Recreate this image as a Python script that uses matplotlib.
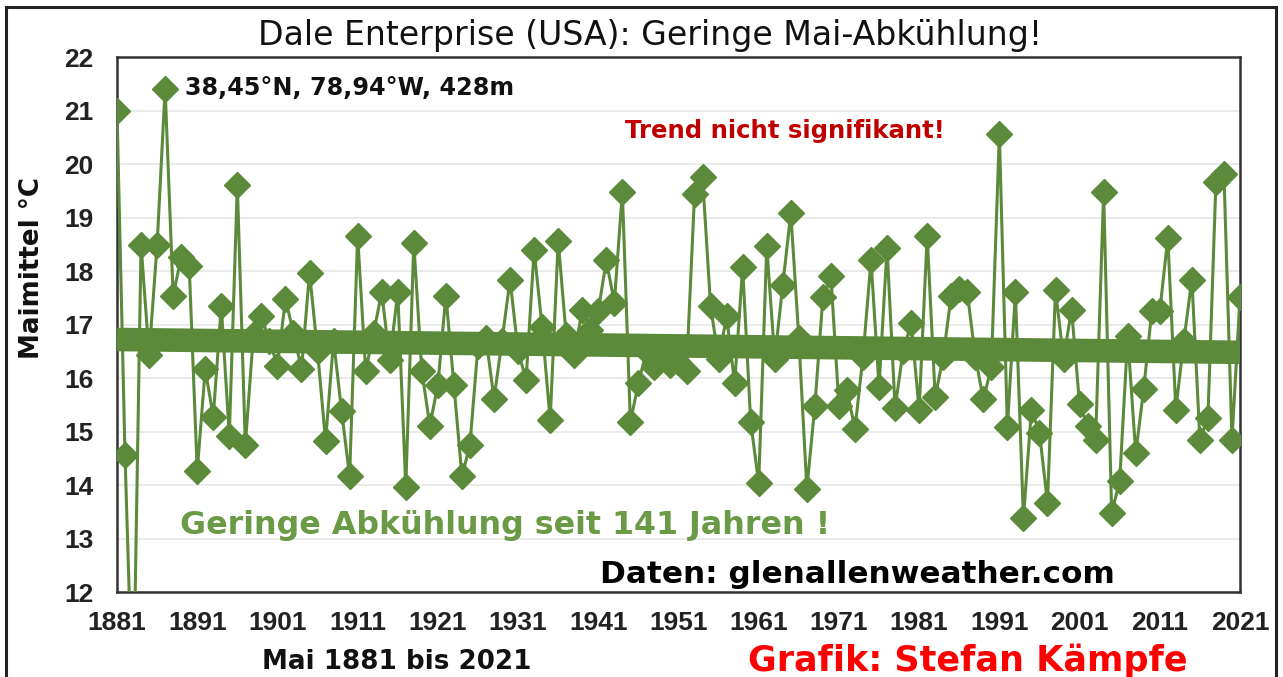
import matplotlib
matplotlib.use("Agg")
import matplotlib.pyplot as plt
from matplotlib.patches import Rectangle
import numpy as np

years = list(range(1881, 2022))
temps = [
    21.0, 14.56, 9.6, 18.49, 16.43, 18.49, 21.41, 17.54, 18.26, 18.1,     # 1881-1890
    14.26, 16.16, 15.28, 17.34, 14.92, 19.6, 14.75, 16.8, 17.15, 16.7,    # 1891-1900
    16.23, 17.47, 16.85, 16.16, 17.97, 16.5, 14.82, 16.7, 15.38, 14.16,   # 1901-1910
    18.66, 16.13, 16.85, 17.6, 16.33, 17.6, 13.97, 18.52, 16.13, 15.11,   # 1911-1920
    15.87, 17.54, 15.87, 14.16, 14.75, 16.6, 16.75, 15.61, 16.7, 17.84,   # 1921-1930
    16.5, 15.97, 18.39, 16.95, 15.21, 18.56, 16.8, 16.43, 17.28, 16.9,    # 1931-1940
    17.25, 18.2, 17.41, 19.48, 15.18, 15.9, 16.5, 16.2, 16.4, 16.25,      # 1941-1950
    16.3, 16.13, 19.43, 19.75, 17.34, 16.36, 17.15, 15.9, 18.07, 15.18,   # 1951-1960
    14.03, 18.46, 16.36, 17.74, 19.08, 16.75, 13.93, 15.48, 17.51, 17.9,  # 1961-1970
    15.48, 15.77, 15.05, 16.4, 18.2, 15.84, 18.43, 15.44, 16.5, 17.02,    # 1971-1980
    15.41, 18.66, 15.64, 16.4, 17.54, 17.67, 17.6, 16.4, 15.6, 16.2,      # 1981-1990
    20.56, 15.08, 17.6, 13.38, 15.41, 14.98, 13.67, 17.64, 16.36, 17.28,  # 1991-2000
    15.51, 15.11, 14.85, 19.48, 13.48, 14.07, 16.78, 14.59, 15.8, 17.25,  # 2001-2010
    17.25, 18.62, 15.41, 16.7, 17.84, 14.85, 15.25, 19.67, 19.82, 14.85,  # 2011-2020
    17.51,                                                                # 2021
]
trend_years = [1881, 2021]
trend_values = [16.72, 16.48]
xtick_years = list(range(1881, 2022, 10))
yticks = list(range(12, 23))

GREEN = "#5b8a3a"
W, H = 1283, 677
plt.rcParams['font.family'] = ['Liberation Sans', 'DejaVu Sans']
fig = plt.figure(figsize=(W / 100, H / 100), dpi=100)

def fx(px):
    return px / W

def fy(py):
    return 1 - py / H

WIDE = ['DejaVu Sans']

ax = fig.add_axes([fx(117), fy(592), fx(1240) - fx(117), fy(57) - fy(592)])
ax.set_xlim(1881, 2021)
ax.set_ylim(12, 22)
ax.set_yticks(yticks)
ax.set_xticks(xtick_years)
ax.grid(axis='y', color='#e6e6e6', lw=1.2)
ax.set_axisbelow(True)
for s in ax.spines.values():
    s.set_color('#333333')
    s.set_linewidth(1.8)
ax.tick_params(axis='x', length=0, labelsize=19, pad=14)
ax.tick_params(axis='y', length=0, labelsize=19, pad=17)
for lab in ax.get_xticklabels() + ax.get_yticklabels():
    lab.set_fontweight('bold')
    lab.set_color('#222222')

ax.plot(years, temps, color=GREEN, lw=2.2, marker='D', markersize=13,
        markerfacecolor=GREEN, markeredgecolor=GREEN, zorder=3, clip_on=True)
ax.plot(trend_years, trend_values, color=GREEN, lw=17, solid_capstyle='butt', zorder=4)

fig.text(fx(32), fy(268), 'Maimittel °C', rotation=90, ha='center', va='center',
         fontsize=18.8, fontweight='bold', family=WIDE, color='#111111')

fig.text(fx(650), fy(45), 'Dale Enterprise (USA): Geringe Mai-Abkühlung!',
         ha='center', va='baseline', fontsize=23.9, family=WIDE, color='#111111')
fig.text(fx(185), fy(95), '38,45°N, 78,94°W, 428m', ha='left', va='baseline',
         fontsize=17.2, fontweight='bold', family=WIDE, color='#111111')
fig.text(fx(625), fy(138), 'Trend nicht signifikant!', ha='left', va='baseline',
         fontsize=17.6, fontweight='bold', family=WIDE, color='#c00000')
fig.text(fx(180), fy(534), 'Geringe Abkühlung seit 141 Jahren !', ha='left', va='baseline',
         fontsize=22.9, fontweight='bold', family=WIDE, color='#6a9a45')
fig.text(fx(600), fy(583), 'Daten: glenallenweather.com', ha='left', va='baseline',
         fontsize=22.4, fontweight='bold', family=WIDE, color='#000000')
fig.text(fx(262), fy(669), 'Mai 1881 bis 2021', ha='left', va='baseline',
         fontsize=18.8, fontweight='bold', family=WIDE, color='#111111')
fig.text(fx(748), fy(671), 'Grafik: Stefan Kämpfe', ha='left', va='baseline',
         fontsize=25.2, fontweight='bold', family=WIDE, color='#ff0000')

fig.patches.append(Rectangle((fx(6), fy(690)), fx(1276) - fx(6), fy(7) - fy(690),
                             transform=fig.transFigure, fill=False,
                             edgecolor='#222222', lw=2.2, zorder=0))

fig.savefig('out.png', dpi=100)
